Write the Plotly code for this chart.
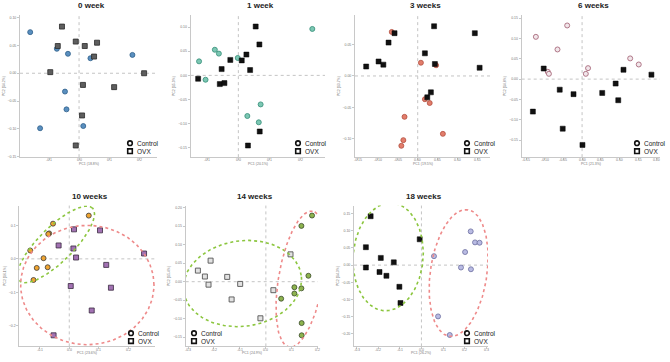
import numpy as np
import plotly.graph_objects as go

W, H = 670, 362

# ---------------- data (PC1, PC2 scores) ----------------
titles = ["0 week", "1 week", "3 weeks", "6 weeks", "10 weeks", "14 weeks", "18 weeks"]

ctrl_x_0w = [-0.163, -0.074, -0.037, 0.038, 0.178, -0.047, -0.042, -0.130, 0.014]
ctrl_y_0w = [0.074, 0.044, 0.035, 0.027, 0.033, -0.033, -0.065, -0.099, -0.095]
ovx_x_0w = [-0.057, -0.071, -0.011, 0.019, 0.060, 0.050, -0.096, 0.217, 0.013, 0.117, 0.010, -0.011]
ovx_y_0w = [0.084, 0.049, 0.057, 0.049, 0.055, 0.030, 0.002, 0.000, -0.021, -0.025, -0.076, -0.130]

ctrl_x_1w = [0.239, -0.076, -0.063, -0.127, -0.002, -0.106, 0.072, 0.029, 0.066]
ctrl_y_1w = [0.096, 0.053, 0.045, 0.029, 0.036, -0.009, -0.060, -0.084, -0.097]
ovx_x_1w = [0.056, 0.068, 0.026, -0.026, 0.011, -0.054, 0.038, -0.130, -0.060, -0.045, 0.069, 0.031]
ovx_y_1w = [0.101, 0.064, 0.043, 0.032, 0.031, 0.013, 0.011, -0.007, -0.018, -0.016, -0.116, -0.145]

ctrl_x_3w = [-0.065, 0.008, 0.046, 0.018, 0.030, -0.033, 0.063, -0.036, -0.041]
ctrl_y_3w = [0.070, 0.021, 0.017, -0.037, -0.043, -0.065, -0.092, -0.102, -0.111]
ovx_x_3w = [-0.058, -0.073, 0.041, 0.143, 0.018, 0.043, -0.098, -0.086, -0.129, 0.155, 0.033, 0.024]
ovx_y_3w = [0.068, 0.053, 0.079, 0.068, 0.036, 0.019, 0.023, 0.018, 0.015, 0.013, -0.026, -0.034]

ctrl_x_6w = [-0.040, -0.124, -0.066, 0.129, 0.152, -0.092, -0.089, 0.016, 0.010]
ctrl_y_6w = [0.132, 0.104, 0.073, 0.051, 0.036, 0.018, 0.013, 0.027, 0.013]
ovx_x_6w = [-0.103, 0.186, 0.111, -0.060, -0.023, 0.054, 0.090, 0.097, -0.132, -0.052, 0.001]
ovx_y_6w = [0.026, 0.011, 0.023, -0.026, -0.037, -0.034, -0.011, -0.052, -0.080, -0.122, -0.162]

ctrl_x_10w = [0.066, -0.055, -0.068, -0.071, -0.132, -0.087, -0.110, -0.073, -0.121]
ctrl_y_10w = [0.129, 0.105, 0.076, 0.074, 0.025, 0.002, -0.027, -0.025, -0.063]
ovx_x_10w = [0.016, 0.104, -0.036, 0.014, 0.023, 0.253, 0.125, 0.141, 0.005, 0.076, -0.053]
ovx_y_10w = [0.088, 0.085, 0.040, 0.031, 0.004, 0.016, -0.018, -0.086, -0.081, -0.154, -0.228]

ctrl_x_14w = [0.178, 0.137, 0.164, 0.110, 0.137, 0.110, 0.059, 0.138, 0.138]
ctrl_y_14w = [0.179, 0.151, 0.016, -0.015, -0.018, -0.032, -0.046, -0.112, -0.145]
ovx_x_14w = [0.095, -0.213, -0.262, -0.235, -0.149, -0.221, -0.099, -0.132, 0.029, -0.021]
ovx_y_14w = [0.074, 0.057, 0.030, 0.014, 0.013, -0.008, -0.006, -0.048, -0.023, -0.099]

ctrl_x_18w = [0.228, 0.248, 0.269, 0.202, 0.058, 0.183, 0.229, 0.077, 0.131]
ctrl_y_18w = [0.098, 0.066, 0.065, 0.038, 0.026, -0.007, -0.012, -0.149, -0.203]
ovx_x_18w = [-0.235, -0.008, -0.257, -0.188, -0.128, -0.257, -0.194, -0.162, -0.102, -0.097]
ovx_y_18w = [0.142, 0.075, 0.052, 0.021, 0.008, -0.007, -0.020, -0.031, -0.063, -0.110]

ctrl_x = [ctrl_x_0w, ctrl_x_1w, ctrl_x_3w, ctrl_x_6w, ctrl_x_10w, ctrl_x_14w, ctrl_x_18w]
ctrl_y = [ctrl_y_0w, ctrl_y_1w, ctrl_y_3w, ctrl_y_6w, ctrl_y_10w, ctrl_y_14w, ctrl_y_18w]
ovx_x = [ovx_x_0w, ovx_x_1w, ovx_x_3w, ovx_x_6w, ovx_x_10w, ovx_x_14w, ovx_x_18w]
ovx_y = [ovx_y_0w, ovx_y_1w, ovx_y_3w, ovx_y_6w, ovx_y_10w, ovx_y_14w, ovx_y_18w]

# tick values / labels
xticks = [
    [-0.1, 0.0, 0.1, 0.2],
    [-0.1, 0.0, 0.1, 0.2],
    [-0.15, -0.10, -0.05, 0.0, 0.05, 0.10, 0.15],
    [-0.15, -0.10, -0.05, 0.0, 0.05, 0.10, 0.15, 0.20],
    [-0.1, 0.0, 0.1, 0.2],
    [-0.3, -0.2, -0.1, 0.0, 0.1, 0.2],
    [-0.3, -0.2, -0.1, 0.0, 0.1, 0.2, 0.3],
]
yticks = [
    [-0.15, -0.10, -0.05, 0.0, 0.05, 0.10],
    [-0.15, -0.10, -0.05, 0.0, 0.05, 0.10],
    [-0.10, -0.05, 0.0, 0.05],
    [-0.15, -0.10, -0.05, 0.0, 0.05, 0.10, 0.15],
    [-0.2, -0.1, 0.0, 0.1],
    [-0.15, -0.10, -0.05, 0.0, 0.05, 0.10, 0.15, 0.20],
    [-0.20, -0.15, -0.10, -0.05, 0.0, 0.05, 0.10, 0.15],
]
xfmt = ["{:.1f}", "{:.1f}", "{:.2f}", "{:.2f}", "{:.1f}", "{:.1f}", "{:.1f}"]
yfmt = [".2f", ".2f", ".2f", ".2f", ".1f", ".2f", ".2f"]
pc1_labels = ["PC1 (18.8%)", "PC1 (20.1%)", "PC1 (19.5%)", "PC1 (21.3%)", "PC1 (23.6%)", "PC1 (24.9%)", "PC1 (26.2%)"]
pc2_labels = ["PC2 (14.2%)", "PC2 (15.0%)", "PC2 (13.7%)", "PC2 (14.8%)", "PC2 (16.1%)", "PC2 (15.4%)", "PC2 (14.3%)"]

# ---------------- layout geometry ----------------
boxes = [  # left, right, top, bottom in px
    (20, 157, 15, 158),
    (190.7, 325, 15, 158),
    (355, 490, 15, 158),
    (521.7, 660, 15, 158),
    (19.3, 155, 206.7, 348.3),
    (185.7, 318, 206.7, 348.3),
    (354, 488, 206.7, 348.3),
]
xranges = [[-0.197, 0.26], [-0.154, 0.28], [-0.157, 0.181], [-0.162, 0.209],
           [-0.169, 0.290], [-0.309, 0.201], [-0.312, 0.308]]
yranges = [[-0.151, 0.105], [-0.169, 0.125], [-0.129, 0.097], [-0.192, 0.158],
           [-0.261, 0.159], [-0.175, 0.206], [-0.236, 0.173]]

ctrl_style = [
    dict(color="#5a8fbf", line=dict(color="#2f5f8a", width=0.8)),
    dict(color="#7cc7b3", line=dict(color="#3f9580", width=0.9)),
    dict(color="#e27d6b", line=dict(color="#b24f40", width=0.8)),
    dict(color="#f1e6ea", line=dict(color="#a86a7c", width=0.9)),
    dict(color="#f0a531", line=dict(color="#3a3a3a", width=0.8)),
    dict(color="#8db34e", line=dict(color="#3a4a2a", width=0.8)),
    dict(color="#b9bbe3", line=dict(color="#6c6ea0", width=0.8)),
]
ovx_style = [
    dict(color="#5e5e5e", line=dict(color="#2a2a2a", width=0.8)),
    dict(color="#111111", line=dict(color="#000000", width=0.5)),
    dict(color="#111111", line=dict(color="#000000", width=0.5)),
    dict(color="#111111", line=dict(color="#000000", width=0.5)),
    dict(color="#a272b3", line=dict(color="#3a2a40", width=0.8)),
    dict(color="#e2e2e2", line=dict(color="#555555", width=0.9)),
    dict(color="#111111", line=dict(color="#000000", width=0.5)),
]

# ellipses: panel index, centre (data), semi-axes (px), screen angle (deg), colour
GREEN, PINK = "#8cc63f", "#ee8a8a"
ellipses = [
    (4, -0.045, 0.043, 51.7, 17.3, 45.0, GREEN),
    (4, 0.061, -0.078, 66.7, 60.0, 0.0, PINK),
    (5, -0.090, -0.005, 59.3, 43.0, 8.0, GREEN),
    (5, 0.135, 0.007, 69.3, 22.3, 80.3, PINK),
    (6, -0.154, 0.024, 54.3, 35.0, 85.5, GREEN),
    (6, 0.172, -0.023, 64.3, 28.3, 81.8, PINK),
]
legend_pos = [(130, 144), (298, 144), (467, 144), (637, 144), (131, 335), (194, 335), (467, 335)]

FONT = "Liberation Sans, Arial, sans-serif"
SMALL = dict(size=3.5, color="#777", family=FONT)
fig = go.Figure()
layout = dict(width=W, height=H, margin=dict(l=0, r=0, t=0, b=0),
              paper_bgcolor="white", plot_bgcolor="white", showlegend=False,
              font=dict(family=FONT, color="#666"))
shapes, annotations = [], []

for i in range(7):
    sfx = "" if i == 0 else str(i + 1)
    xa, ya = "x" + sfx, "y" + sfx
    L, R, T, B = boxes[i]
    common = dict(showgrid=False, zeroline=False, showline=True, linecolor="#c8c8c8",
                  linewidth=1, ticks="outside", ticklen=2, tickcolor="#c8c8c8",
                  tickfont=SMALL, fixedrange=True)
    layout["xaxis" + sfx] = dict(common, domain=[L / W, R / W], range=xranges[i], anchor=ya,
                                 tickvals=xticks[i], showticklabels=False)
    layout["yaxis" + sfx] = dict(common, domain=[1 - B / H, 1 - T / H], range=yranges[i], anchor=xa,
                                 tickvals=yticks[i], tickformat=yfmt[i],
                                 title=dict(text=pc2_labels[i], font=SMALL, standoff=2))
    # x tick labels placed at the tick values
    for v in xticks[i]:
        annotations.append(dict(text=xfmt[i].format(v), xref=xa, yref="paper", x=v, y=1 - (B + 3.2) / H,
                                xanchor="center", yanchor="middle", showarrow=False, font=SMALL))
    # x-axis title
    annotations.append(dict(text=pc1_labels[i], xref="paper", yref="paper",
                            x=(L + R) / 2 / W, y=1 - (B + 7.0) / H, xanchor="center", yanchor="middle",
                            showarrow=False, font=SMALL))
    # zero reference lines
    shapes.append(dict(type="line", xref=xa, yref=ya + " domain", x0=0, x1=0, y0=0, y1=1,
                       line=dict(color="#c4c4c4", width=1, dash="3px,3px"), layer="below"))
    shapes.append(dict(type="line", xref=xa + " domain", yref=ya, x0=0, x1=1, y0=0, y1=0,
                       line=dict(color="#c4c4c4", width=1, dash="3px,3px"), layer="below"))

    fig.add_trace(go.Scatter(x=ctrl_x[i], y=ctrl_y[i], mode="markers", xaxis=xa, yaxis=ya,
                             marker=dict(symbol="circle", size=5, **ctrl_style[i]), name="Control"))
    fig.add_trace(go.Scatter(x=ovx_x[i], y=ovx_y[i], mode="markers", xaxis=xa, yaxis=ya,
                             marker=dict(symbol="square", size=5, **ovx_style[i]), name="OVX"))

    # title
    annotations.append(dict(text="<b>%s</b>" % titles[i], xref="paper", yref="paper",
                            x=(L + R) / 2 / W + 0.004, y=1 - (T - 9) / H, xanchor="center", yanchor="middle",
                            showarrow=False, font=dict(size=8, color="#222", family=FONT)))
    # legend
    lx, ly = legend_pos[i]
    for k, (lab, sym) in enumerate([("Control", "circle"), ("OVX", "rect")]):
        yy = ly + 8 * k
        shapes.append(dict(type=sym, xref="paper", yref="paper", xsizemode="pixel", ysizemode="pixel",
                           xanchor=lx / W, yanchor=1 - yy / H, x0=-2.3, x1=2.3, y0=-2.3, y1=2.3,
                           line=dict(color="#111", width=1.6), fillcolor="white"))
        annotations.append(dict(text=lab, xref="paper", yref="paper", x=(lx + 5) / W, y=1 - yy / H,
                                xanchor="left", yanchor="middle", showarrow=False,
                                font=dict(size=6.5, color="#222", family=FONT)))

# confidence ellipses
t = np.linspace(0, 2 * np.pi, 200)
for (i, cx, cy, a, b, ang, col) in ellipses:
    sfx = "" if i == 0 else str(i + 1)
    L, R, T, B = boxes[i]
    sx = (R - L) / (xranges[i][1] - xranges[i][0])
    sy = (B - T) / (yranges[i][1] - yranges[i][0])
    th = np.deg2rad(ang)
    px = a * np.cos(t) * np.cos(th) - b * np.sin(t) * np.sin(th)
    py = a * np.cos(t) * np.sin(th) + b * np.sin(t) * np.cos(th)
    fig.add_trace(go.Scatter(x=cx + px / sx, y=cy + py / sy, mode="lines",
                             xaxis="x" + sfx, yaxis="y" + sfx, hoverinfo="skip",
                             line=dict(color=col, width=1.6, dash="dot")))

layout["shapes"] = shapes
layout["annotations"] = annotations
fig.update_layout(**layout)
fig.write_html("out.html", config={"displayModeBar": False},
               post_script="document.body.style.margin='0';document.body.style.overflow='hidden';")
